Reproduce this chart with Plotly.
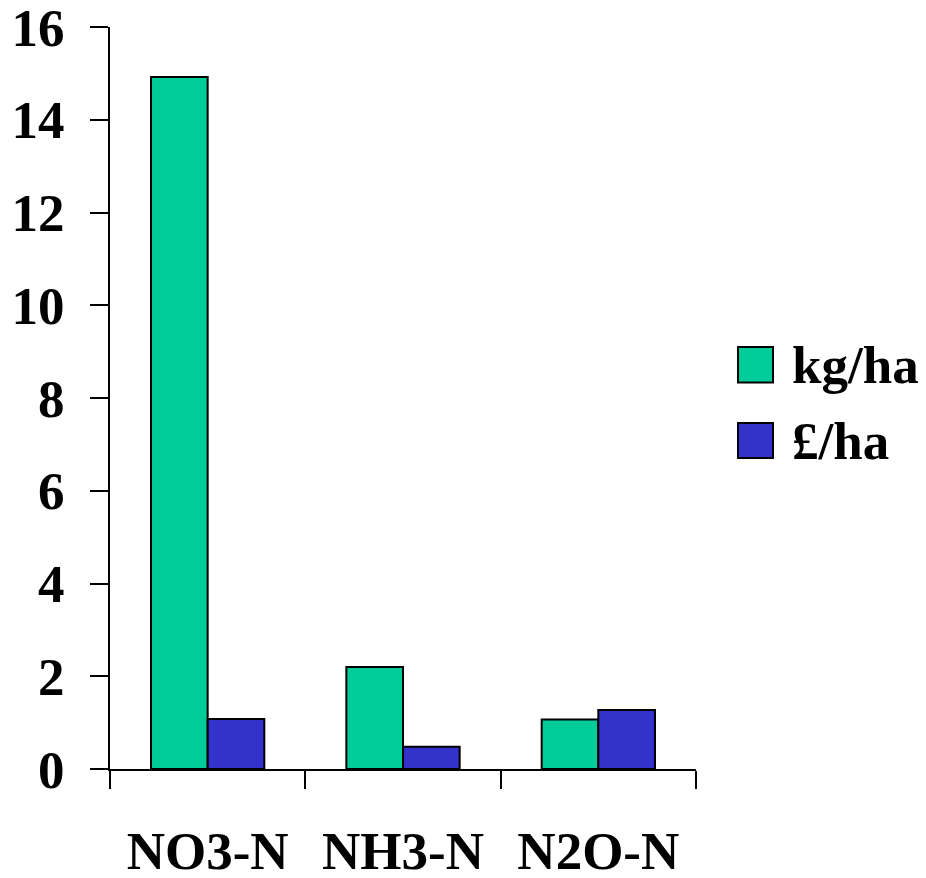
import plotly.graph_objects as go

categories = ["NO3-N", "NH3-N", "N2O-N"]
kg_per_ha = [14.92, 2.2, 1.07]
gbp_per_ha = [1.08, 0.48, 1.27]
series_names = ["kg/ha", "£/ha"]
series_colors = ["#00CC99", "#3333CC"]
y_ticks = [0, 2, 4, 6, 8, 10, 12, 14, 16]

FONT = dict(family="Liberation Serif, Times New Roman, serif", size=53, color="black", weight="bold")

fig = go.Figure()
for name, vals, col in zip(series_names, [kg_per_ha, gbp_per_ha], series_colors):
    fig.add_trace(go.Bar(x=categories, y=vals, name=name, marker=dict(color=col, line=dict(color="black", width=2)),
                         showlegend=False))

fig.update_layout(
    width=926, height=878,
    margin=dict(l=110, r=230, t=27, b=109),
    paper_bgcolor="white", plot_bgcolor="white",
    barmode="group", bargap=0.42, bargroupgap=0,
    font=FONT,
)
fig.update_xaxes(type="category", tickson="boundaries", ticks="outside", ticklen=18, tickwidth=2,
                 tickcolor="black", showline=True, linecolor="black", linewidth=2, showgrid=False,
                 tickfont=FONT, ticklabelstandoff=34, automargin=False, ticklabeloverflow="allow")
fig.update_yaxes(range=[0, 16], tickvals=y_ticks, ticks="outside", ticklen=18, tickwidth=2,
                 tickcolor="black", showline=True, linecolor="black", linewidth=2, showgrid=False,
                 zeroline=False, tickfont=FONT, ticklabelstandoff=15, automargin=False,
                 ticklabeloverflow="allow")

# manual legend
sq = [(0.5208, 0.5687), (0.4191, 0.4663)]
for (y0, y1), name, col in zip(sq, series_names, series_colors):
    fig.add_shape(type="rect", xref="paper", yref="paper", x0=1.0717, x1=1.1314, y0=y0, y1=y1,
                  fillcolor=col, line=dict(color="black", width=2))
    fig.add_annotation(xref="paper", yref="paper", x=1.1604, y=(y0 + y1) / 2, text=name, showarrow=False,
                       xanchor="left", yanchor="middle", font=FONT)

fig.write_html("out.html")
